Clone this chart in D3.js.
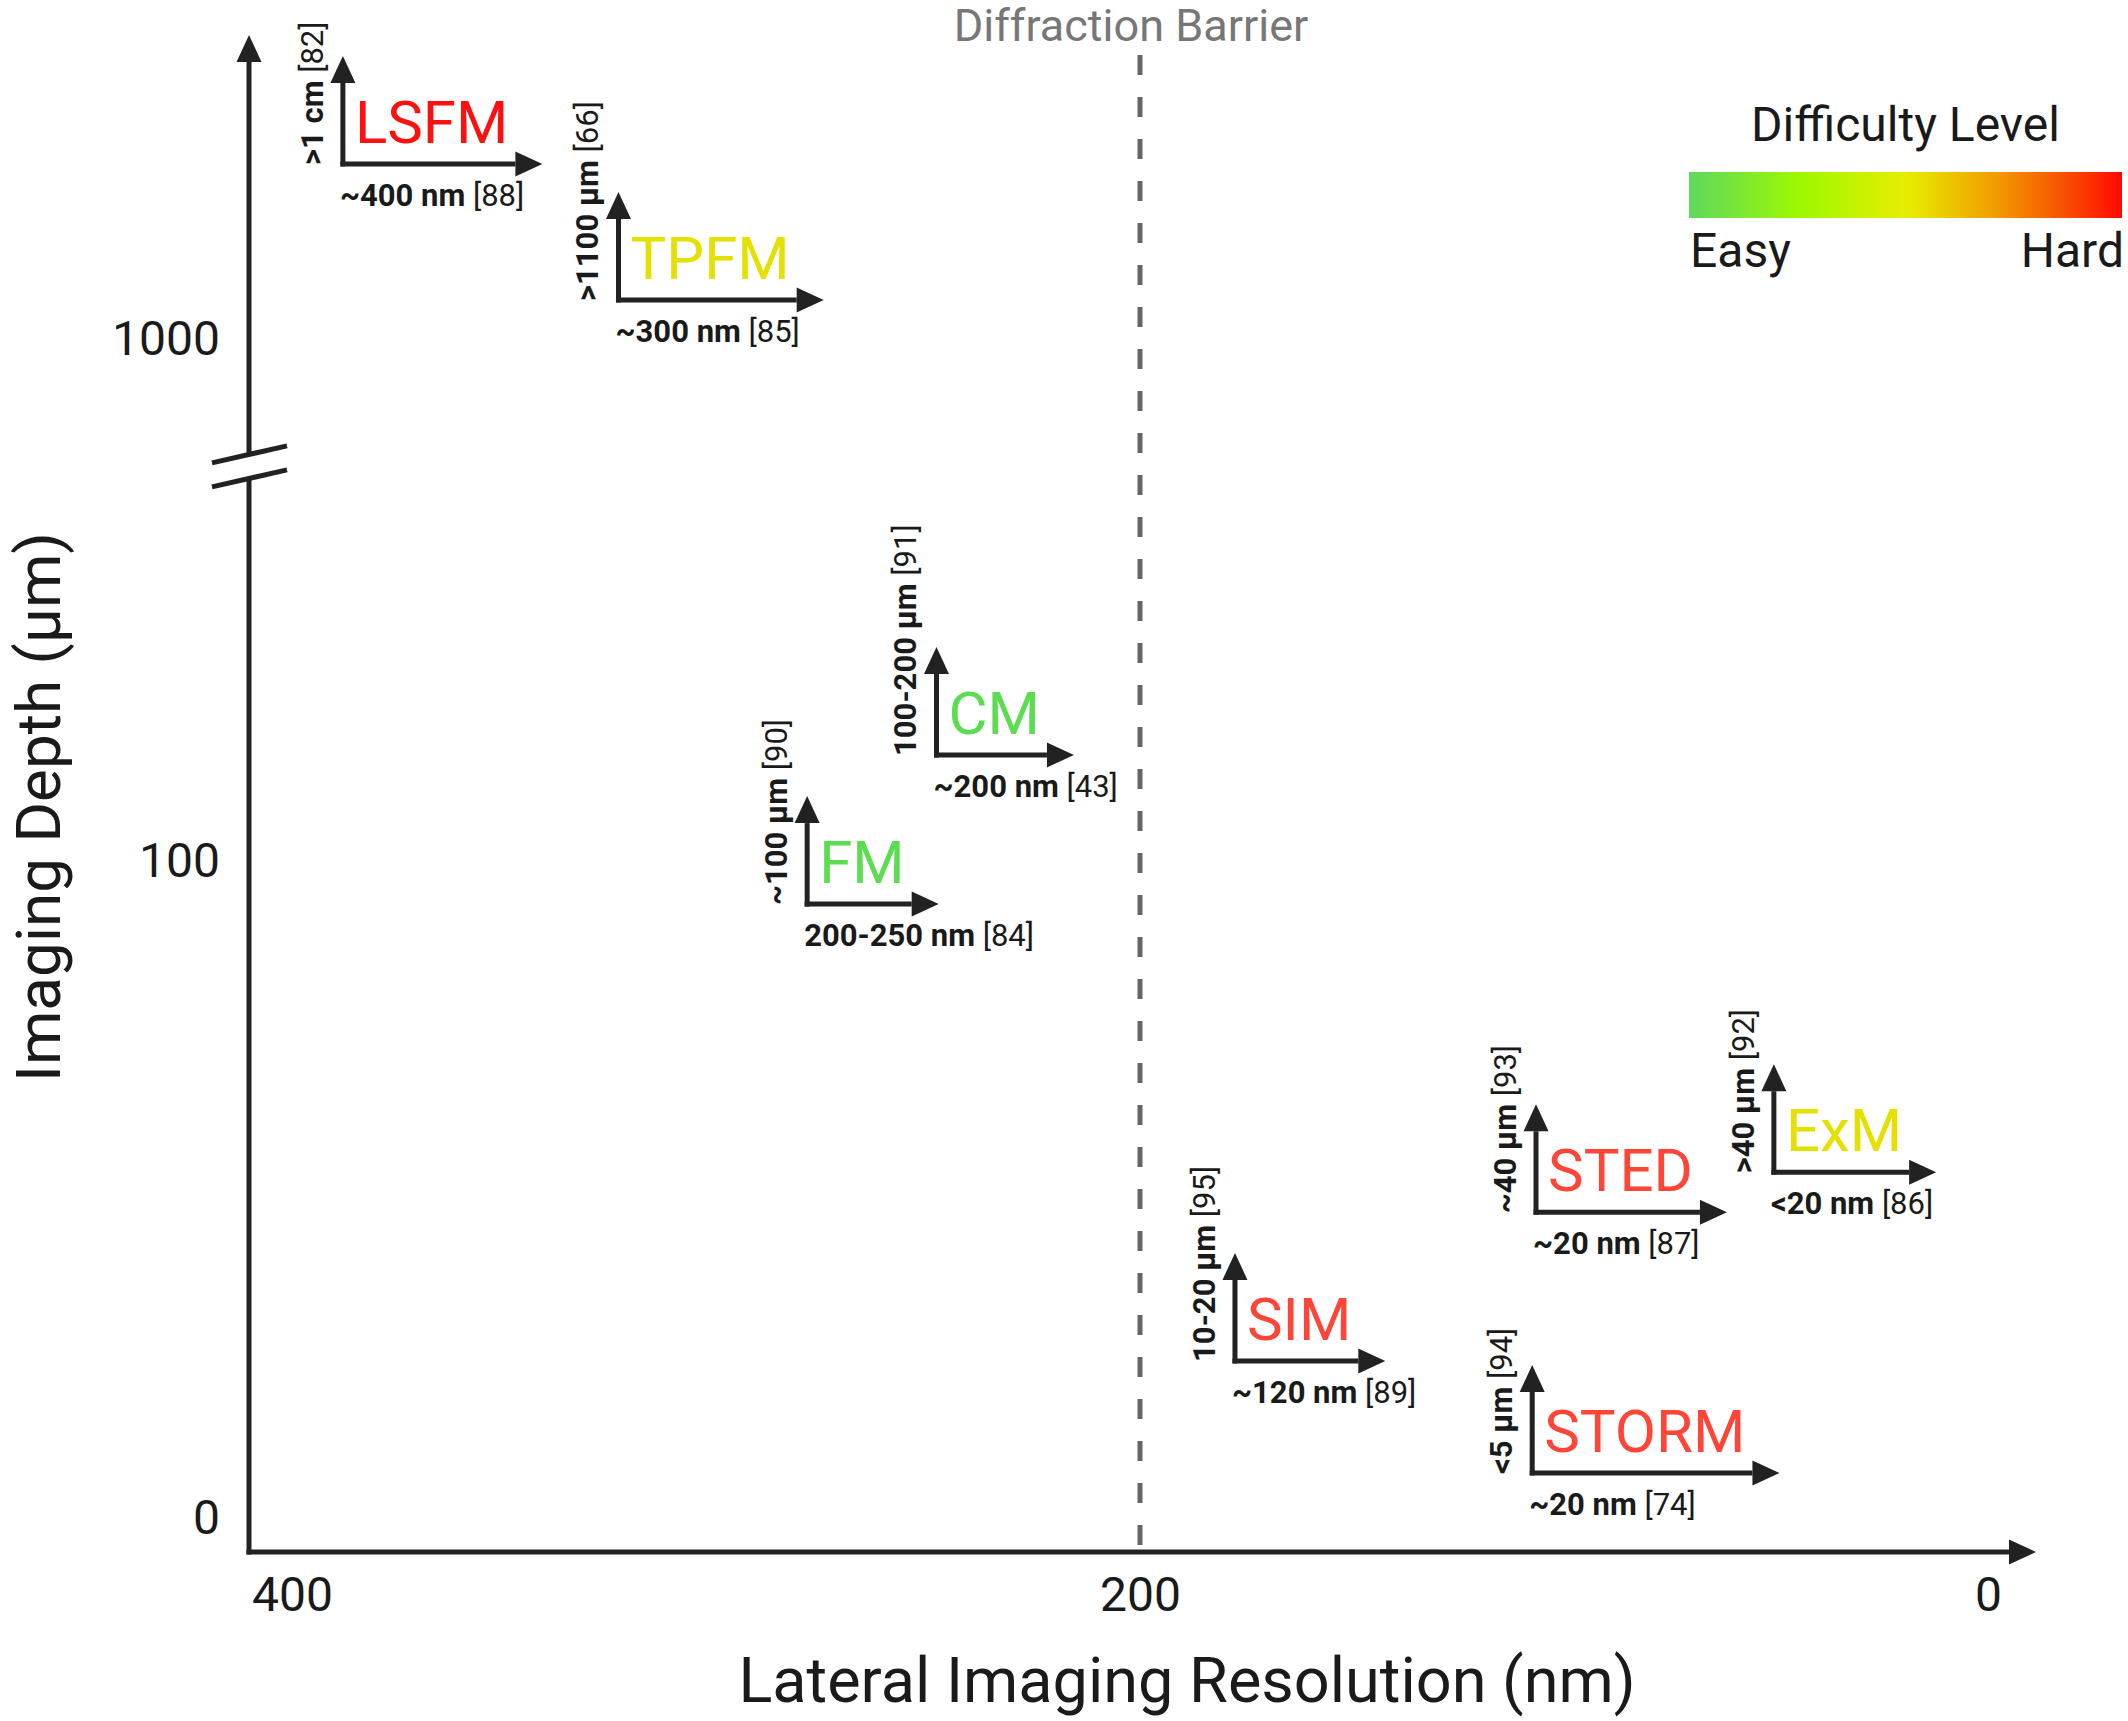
<!DOCTYPE html>
<html>
<head>
<meta charset="utf-8">
<script src="https://cdn.jsdelivr.net/npm/d3@7"></script>
<style>
  body { margin: 0; background: #fff; }
  svg { display: block; font-family: Roboto, "Noto Sans", sans-serif; }
</style>
</head>
<body>
<div id="chart"></div>
<script>
// values
var methods = ["LSFM", "TPFM", "CM", "FM", "SIM", "STED", "ExM", "STORM"];
var difficulty = ["very hard", "medium", "easy", "easy", "hard", "hard", "medium", "hard"];
// where each glyph's corner sits: resolution (nm) and depth (µm, log axis)
var resolutionPos = [388, 323, 248, 278.5, 177.6, 106.6, 50.5, 107.5];
var depthPos = [2165, 1188, 159.5, 82.6, 11.0, 21.2, 25.3, 6.71];
var resolutionText = ["~400 nm", "~300 nm", "~200 nm", "200-250 nm", "~120 nm", "~20 nm", "<20 nm", "~20 nm"];
var resolutionRef = ["[88]", "[85]", "[43]", "[84]", "[89]", "[87]", "[86]", "[74]"];
var depthText = [">1 cm", ">1100 µm", "100-200 µm", "~100 µm", "10-20 µm", "~40 µm", ">40 µm", "<5 µm"];
var depthRef = ["[82]", "[66]", "[91]", "[90]", "[95]", "[93]", "[92]", "[94]"];

var xTicks = [400, 200, 0];
var yTicks = [5.5, 100, 1000];
var yTickLabels = ["0", "100", "1000"];
var diffractionLimit = 200;
var axisBreakDepth = 570;

// legend gradient
var legendOffsets = [0, 0.25, 0.5, 0.7, 0.86, 1];
var legendColors = ["#5fd85f", "#9cf800", "#e6ee00", "#f0a000", "#f85400", "#ff0800"];
var difficultyLevels = ["easy", "medium", "hard", "very hard"];
var difficultyColors = ["#5cdc50", "#e4e000", "#ff4438", "#ff1010"];

var width = 2128, height = 1721;
var frameLeft = 249, frameBottom = 1552, frameTop = 35, frameRight = 2036;
var ink = "#222";
var svg, x, y, color;

// line with a triangular head at (x2, y2)
function arrow(g, x1, y1, x2, y2) {
    var headLen = 27, headHalf = 12.5;
    var a = Math.atan2(y2 - y1, x2 - x1);
    var bx = x2 - headLen * Math.cos(a), by = y2 - headLen * Math.sin(a);
    g.append('line')
        .attr('x1', x1).attr('y1', y1).attr('x2', bx).attr('y2', by)
        .attr('stroke', ink).attr('stroke-width', 5);
    var px = -Math.sin(a) * headHalf, py = Math.cos(a) * headHalf;
    g.append('path')
        .attr('d', 'M' + x2 + ',' + y2 + 'L' + (bx + px) + ',' + (by + py) + 'L' + (bx - px) + ',' + (by - py) + 'Z')
        .attr('fill', ink);
}

function drawAxes() {
    // tick labels through d3 axes, domain paths removed
    var gx = svg.append('g')
        .attr('transform', 'translate(0,' + frameBottom + ')')
        .call(d3.axisBottom(x).tickValues(xTicks).tickFormat(d3.format('d')).tickSize(0).tickPadding(25));
    gx.select('.domain').remove();
    gx.selectAll('text').attr('font-size', 48).attr('font-family', 'Roboto').attr('fill', '#1a1a1a');

    var gy = svg.append('g')
        .attr('transform', 'translate(' + frameLeft + ',0)')
        .call(d3.axisLeft(y).tickValues(yTicks).tickFormat(function(d, i) { return yTickLabels[i]; }).tickSize(0).tickPadding(29));
    gy.select('.domain').remove();
    gy.selectAll('text').attr('font-size', 48).attr('font-family', 'Roboto').attr('fill', '#1a1a1a');

    // axis lines with arrows
    var yb = y(axisBreakDepth);
    var axes = svg.append('g');
    arrow(axes, frameLeft - 2.5, frameBottom, frameRight, frameBottom);
    axes.append('line')
        .attr('x1', frameLeft).attr('y1', frameBottom + 2.5)
        .attr('x2', frameLeft).attr('y2', yb + 11)
        .attr('stroke', ink).attr('stroke-width', 5);
    arrow(axes, frameLeft, yb - 12, frameLeft, frameTop);

    // axis break marks
    [-12, 12].forEach(function(off) {
        axes.append('line')
            .attr('x1', frameLeft - 37).attr('y1', yb + off + 8.5)
            .attr('x2', frameLeft + 38).attr('y2', yb + off - 8.5)
            .attr('stroke', ink).attr('stroke-width', 5);
    });

    // axis titles
    svg.append('text')
        .attr('x', 1187).attr('y', 1702)
        .attr('text-anchor', 'middle')
        .attr('font-size', 63).attr('fill', '#1a1a1a')
        .text('Lateral Imaging Resolution (nm)');
    svg.append('text')
        .attr('transform', 'translate(60,807) rotate(-90)')
        .attr('text-anchor', 'middle')
        .attr('font-size', 62).attr('fill', '#1a1a1a')
        .text('Imaging Depth (µm)');
}

function drawBarrier() {
    var bx = x(diffractionLimit);
    svg.append('line')
        .attr('x1', bx).attr('x2', bx)
        .attr('y1', 55).attr('y2', frameBottom - 3)
        .attr('stroke', '#666').attr('stroke-width', 5)
        .attr('stroke-dasharray', '20,22');
    svg.append('text')
        .attr('x', 1131).attr('y', 41)
        .attr('text-anchor', 'middle')
        .attr('font-size', 45).attr('fill', '#777')
        .text('Diffraction Barrier');
}

function drawLegend() {
    var defs = svg.append('defs');
    var grad = defs.append('linearGradient').attr('id', 'difficulty-grad');
    grad.selectAll('stop')
        .data(legendOffsets)
        .join('stop')
        .attr('offset', function(d) { return d; })
        .attr('stop-color', function(d, i) { return legendColors[i]; });

    var lx = 1689, lw = 433;
    svg.append('rect')
        .attr('x', lx).attr('y', 172).attr('width', lw).attr('height', 46)
        .attr('fill', 'url(#difficulty-grad)');
    svg.append('text')
        .attr('x', lx + lw / 2).attr('y', 141)
        .attr('text-anchor', 'middle').attr('font-size', 48).attr('fill', '#1a1a1a')
        .text('Difficulty Level');
    svg.append('text')
        .attr('x', lx + 1).attr('y', 267)
        .attr('font-size', 48).attr('fill', '#1a1a1a')
        .text('Easy');
    svg.append('text')
        .attr('x', lx + lw + 2).attr('y', 267)
        .attr('text-anchor', 'end')
        .attr('font-size', 48).attr('fill', '#1a1a1a')
        .text('Hard');
}

function drawGlyphs() {
    var nodes = methods.map(function(m, i) {
        return {
            name: m, level: difficulty[i],
            res: resolutionPos[i], depth: depthPos[i],
            resText: resolutionText[i], resRef: resolutionRef[i],
            depthText: depthText[i], depthRef: depthRef[i]
        };
    });

    nodes.forEach(function(d) {
        var g = svg.append('g')
            .attr('transform', 'translate(' + x(d.res) + ',' + y(d.depth) + ')');

        var name = g.append('text')
            .attr('x', 12).attr('y', -21)
            .attr('font-size', 60)
            .attr('fill', color(d.level))
            .text(d.name);
        var w = name.node().getComputedTextLength();

        arrow(g, 0, 2.5, 0, -108);
        arrow(g, -2.5, 0, w + 46, 0);

        // depth label, reads bottom to top
        var vt = g.append('text')
            .attr('transform', 'translate(-20,1) rotate(-90)')
            .attr('font-size', 31).attr('fill', '#1a1a1a');
        vt.append('tspan').attr('font-weight', 700).text(d.depthText);
        vt.append('tspan').text(' ' + d.depthRef);

        // resolution label
        var ht = g.append('text')
            .attr('x', -3).attr('y', 42)
            .attr('font-size', 31).attr('fill', '#1a1a1a');
        ht.append('tspan').attr('font-weight', 700).text(d.resText);
        ht.append('tspan').text(' ' + d.resRef);
    });
}

function init() {
    svg = d3.select('#chart').append('svg')
        .attr('width', width)
        .attr('height', height);
    svg.append('rect').attr('width', width).attr('height', height).attr('fill', '#fff');

    x = d3.scaleLinear().domain([400, 0]).range([292, 1988]);
    y = d3.scaleLog().domain([5.5, 1000]).range([1518, 339]);
    color = d3.scaleOrdinal().domain(difficultyLevels).range(difficultyColors);

    drawBarrier();
    drawAxes();
    drawLegend();
    drawGlyphs();
}

init();
</script>
</body>
</html>
